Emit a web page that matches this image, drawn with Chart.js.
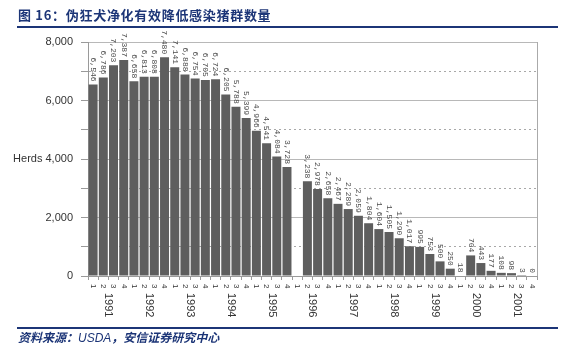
<!DOCTYPE html>
<html>
<head>
<meta charset="utf-8">
<script src="https://cdn.jsdelivr.net/npm/chart.js@4/dist/chart.umd.min.js"></script>
<style>
  html, body { margin: 0; padding: 0; background: #fff; }
  #wrap { position: relative; width: 576px; height: 355px; overflow: hidden; }
  #c { position: absolute; left: 0; top: 0; }
  #title { position: absolute; left: 18px; top: 6px; font: bold 13px "Noto Sans CJK SC", sans-serif; color: #1c3577; white-space: nowrap; line-height: 18px; letter-spacing: 0.7px; }
  #tline { position: absolute; left: 17px; top: 26px; width: 541px; height: 2px; background: #1c3577; }
  #bline { position: absolute; left: 17px; top: 327px; width: 541px; height: 2px; background: #1c3577; }
  #src { position: absolute; left: 18px; top: 329px; font: italic bold 12px "Noto Sans CJK SC", sans-serif; color: #1c3577; white-space: nowrap; line-height: 16px; }
  #src .lat { font-family: "Liberation Sans", Arial, sans-serif; font-weight: normal; }
</style>
</head>
<body>
<div id="wrap">
  <canvas id="c" width="576" height="355"></canvas>
  <div id="title">图 16：伪狂犬净化有效降低感染猪群数量</div>
  <div id="tline"></div>
  <div id="bline"></div>
  <div id="src">资料来源：<span class="lat">USDA</span>，安信证券研究中心</div>
</div>
<script>
const years = ['1991','1992','1993','1994','1995','1996','1997','1998','1999','2000','2001'];
const quarters = ['1','2','3','4'];
const herds = [
  6546, 6786, 7203, 7387,
  6658, 6813, 6808, 7480,
  7141, 6888, 6754, 6705,
  6724, 6205, 5788, 5399,
  4966, 4541, 4084, 3728,
  null, 3238, 2978, 2658,
  2467, 2289, 2059, 1804,
  1604, 1505, 1290, 1017,
  995, 753, 500, 250,
  18, 704, 443, 177,
  108, 98, 3, 0
];
const yTicks = [0, 2000, 4000, 6000, 8000];
const yAxisTitle = 'Herds';

const categories = [];
years.forEach(y => quarters.forEach(q => categories.push(y + ' Q' + q)));

const fmt = v => v.toLocaleString('en-US');

const labelPlugin = {
  id: 'labels',
  afterDraw(chart) {
    const ctx = chart.ctx;
    const area = chart.chartArea;
    const meta = chart.getDatasetMeta(0);
    const xs = chart.scales.x;
    ctx.save();
    ctx.strokeStyle = '#aaaaaa';
    ctx.lineWidth = 1;
    ctx.beginPath();
    ctx.moveTo(Math.round(area.right) + 0.5, area.top);
    ctx.lineTo(Math.round(area.right) + 0.5, area.bottom);
    ctx.stroke();
    ctx.fillStyle = '#4a4a4a';
    ctx.font = '8px "Liberation Mono", monospace';
    meta.data.forEach((bar, i) => {
      const v = herds[i];
      if (v === null || v === undefined) return;
      ctx.save();
      ctx.translate(bar.x, bar.y - 3);
      ctx.rotate(Math.PI / 2);
      ctx.textAlign = 'right';
      ctx.textBaseline = 'middle';
      ctx.fillText(fmt(v), 0, 0);
      ctx.restore();
    });
    ctx.fillStyle = '#333';
    ctx.font = '8px "Liberation Sans", Arial, sans-serif';
    categories.forEach((c, i) => {
      const x = xs.getPixelForValue(i);
      ctx.save();
      ctx.translate(x, area.bottom + 8);
      ctx.rotate(Math.PI / 2);
      ctx.textAlign = 'left';
      ctx.textBaseline = 'middle';
      ctx.fillText(quarters[i % 4], 0, 0);
      ctx.restore();
    });
    ctx.font = '11px "Liberation Sans", Arial, sans-serif';
    years.forEach((y, k) => {
      const x = (xs.getPixelForValue(k * 4 + 1) + xs.getPixelForValue(k * 4 + 2)) / 2;
      ctx.save();
      ctx.translate(x, area.bottom + 17);
      ctx.rotate(Math.PI / 2);
      ctx.textAlign = 'left';
      ctx.textBaseline = 'middle';
      ctx.fillText(y, 0, 0);
      ctx.restore();
    });
    ctx.restore();
  }
};

new Chart(document.getElementById('c'), {
  type: 'bar',
  data: {
    labels: categories,
    datasets: [{
      data: herds,
      backgroundColor: '#5e5e5e',
      borderWidth: 0,
      barPercentage: 0.88,
      categoryPercentage: 1.0
    }]
  },
  options: {
    responsive: false,
    animation: false,
    devicePixelRatio: 1,
    layout: { padding: { top: 42, right: 39, left: 0, bottom: 0 } },
    plugins: { legend: { display: false }, tooltip: { enabled: false } },
    scales: {
      x: {
        ticks: { display: false },
        grid: { drawOnChartArea: false, offset: true, tickLength: 4, tickColor: '#9a9a9a' },
        border: { color: '#9a9a9a' },
        afterFit: s => { s.height = 79; }
      },
      y: {
        min: 0, max: 8000,
        ticks: {
          stepSize: 1000,
          padding: 8,
          color: '#333',
          font: { size: 11, family: '"Liberation Sans", Arial, sans-serif' },
          callback: v => yTicks.includes(v) ? (v === 4000 ? yAxisTitle + ' ' + fmt(v) : fmt(v)) : ''
        },
        grid: {
          color: c => (c.tick && c.tick.value % 2000 !== 0) ? '#a8a8a8' : '#b8b8b8',
          tickColor: '#9a9a9a',
          tickLength: 7
        },
        border: {
          color: '#9a9a9a',
          dash: c => (c.tick && c.tick.value % 2000 !== 0) ? [2, 3] : []
        },
        afterFit: s => { s.width = 88; }
      }
    }
  },
  plugins: [labelPlugin]
});
</script>
</body>
</html>
